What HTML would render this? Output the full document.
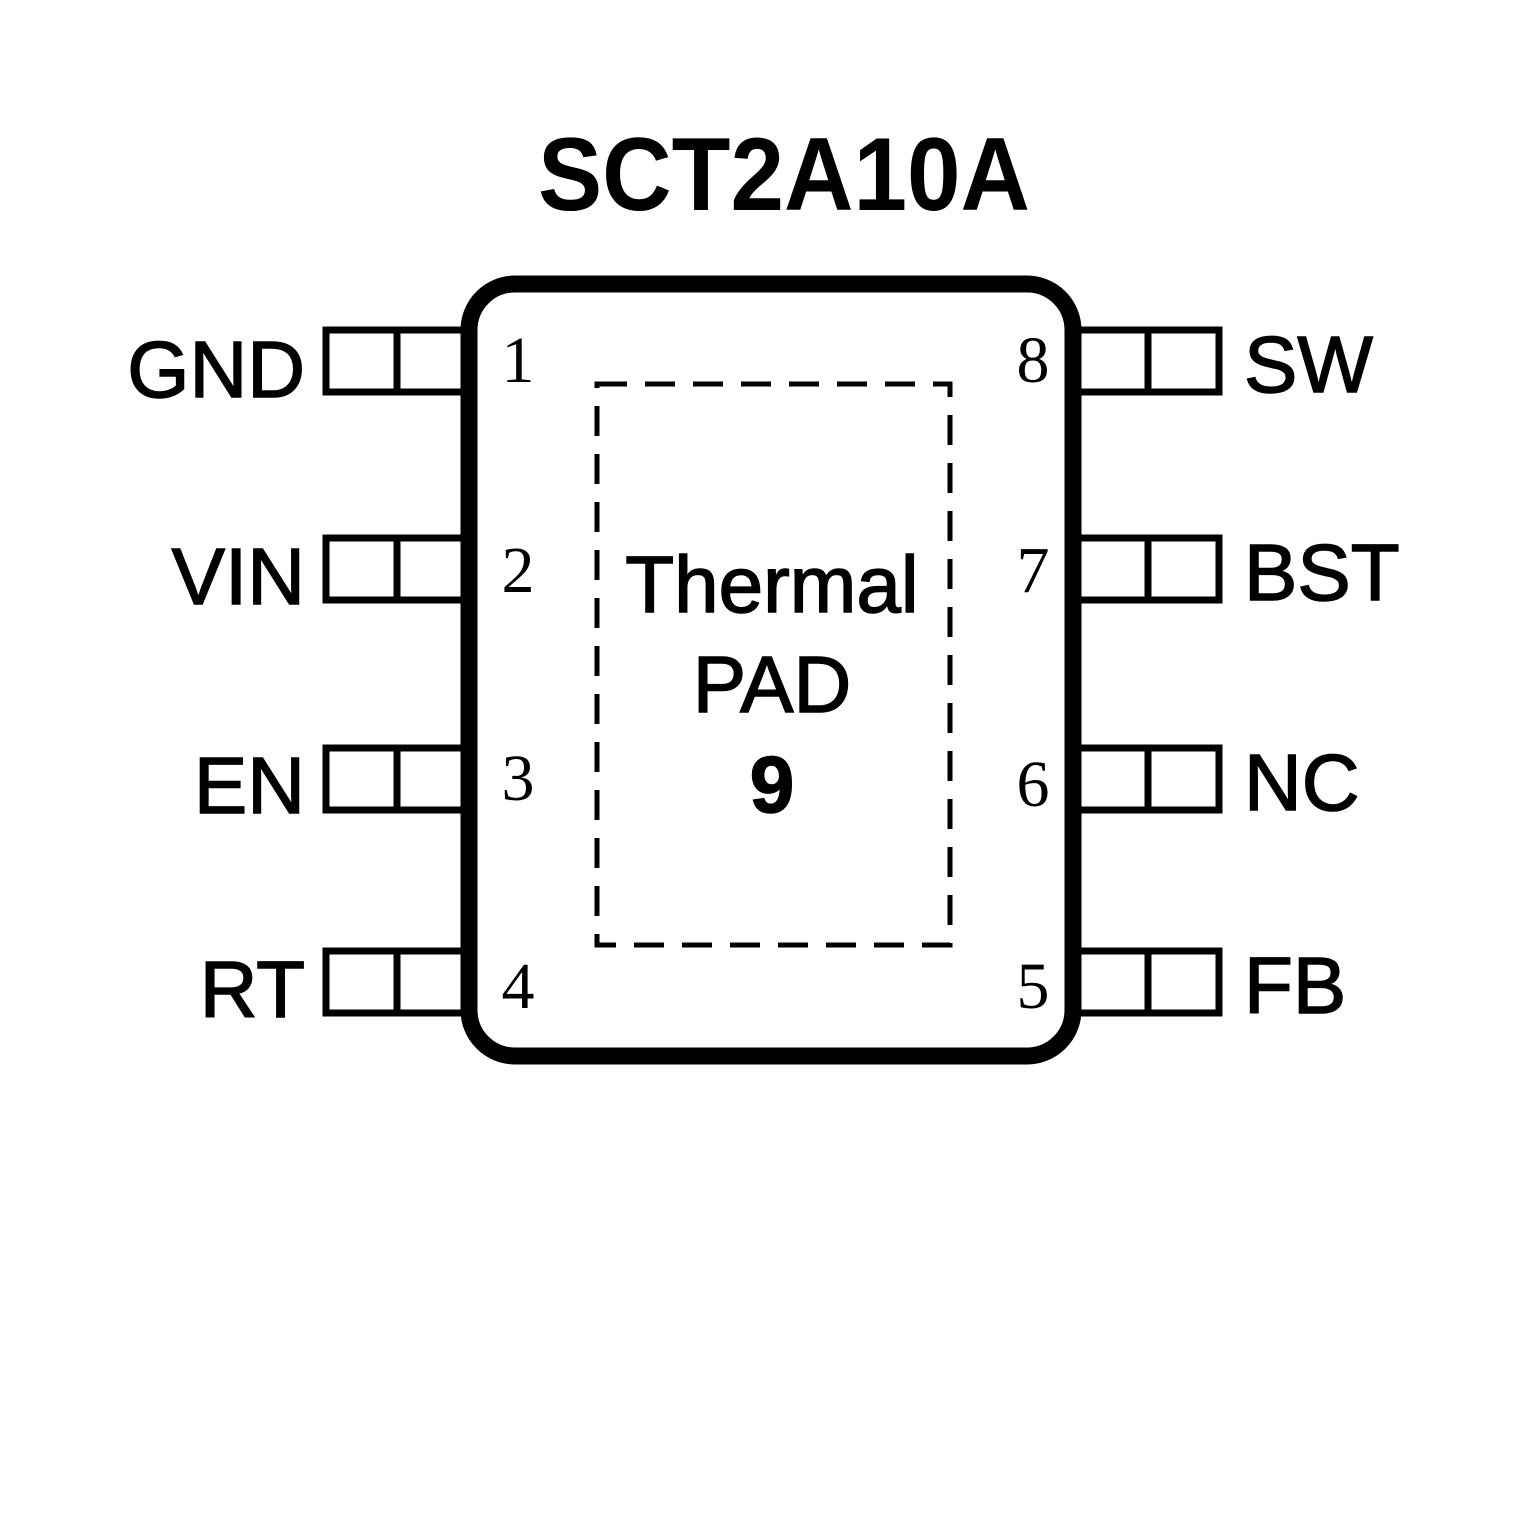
<!DOCTYPE html>
<html><head><style>body{margin:0;background:#fff}svg{display:block}</style></head><body>
<svg width="1535" height="1535" viewBox="0 0 1535 1535" xmlns="http://www.w3.org/2000/svg">
<rect width="1535" height="1535" fill="#fff"/>
<text x="538" y="210" textLength="492" lengthAdjust="spacingAndGlyphs" font-family="Liberation Sans, sans-serif" font-weight="bold" font-size="104">SCT2A10A</text>
<g fill="none" stroke="#000" stroke-width="7">
<rect x="326" y="330" width="140" height="62"/><line x1="397" y1="330" x2="397" y2="392"/>
<rect x="326" y="538" width="140" height="62"/><line x1="397" y1="538" x2="397" y2="600"/>
<rect x="326" y="748" width="140" height="62"/><line x1="397" y1="748" x2="397" y2="810"/>
<rect x="326" y="951" width="140" height="62"/><line x1="397" y1="951" x2="397" y2="1013"/>
<rect x="1076" y="330" width="143" height="62"/><line x1="1148" y1="330" x2="1148" y2="392"/>
<rect x="1076" y="538" width="143" height="62"/><line x1="1148" y1="538" x2="1148" y2="600"/>
<rect x="1076" y="748" width="143" height="62"/><line x1="1148" y1="748" x2="1148" y2="810"/>
<rect x="1076" y="951" width="143" height="62"/><line x1="1148" y1="951" x2="1148" y2="1013"/>
</g>
<rect x="469" y="284" width="604" height="772" rx="46" fill="#fff" stroke="#000" stroke-width="17"/>
<rect x="597" y="384" width="353" height="561" fill="none" stroke="#000" stroke-width="5" stroke-dasharray="30,18"/>
<g font-family="Liberation Sans, sans-serif" font-size="80" stroke="#000" stroke-width="1.5">
<text x="305" y="397" text-anchor="end">GND</text>
<text x="305" y="604" text-anchor="end">VIN</text>
<text x="305" y="813" text-anchor="end">EN</text>
<text x="305" y="1017" text-anchor="end">RT</text>
<text x="1244" y="392">SW</text>
<text x="1244" y="600">BST</text>
<text x="1244" y="810">NC</text>
<text x="1244" y="1013">FB</text>
<text x="772" y="612" text-anchor="middle">Thermal</text>
<text x="772" y="712" text-anchor="middle">PAD</text>
<text x="772" y="812" text-anchor="middle" font-weight="bold">9</text>
</g>
<g font-family="Liberation Serif, serif" font-size="66">
<text x="518" y="382" text-anchor="middle">1</text>
<text x="518" y="592" text-anchor="middle">2</text>
<text x="518" y="800" text-anchor="middle">3</text>
<text x="518" y="1008" text-anchor="middle">4</text>
<text x="1033" y="382" text-anchor="middle">8</text>
<text x="1033" y="592" text-anchor="middle">7</text>
<text x="1033" y="806" text-anchor="middle">6</text>
<text x="1033" y="1008" text-anchor="middle">5</text>
</g>
</svg>
</body></html>
